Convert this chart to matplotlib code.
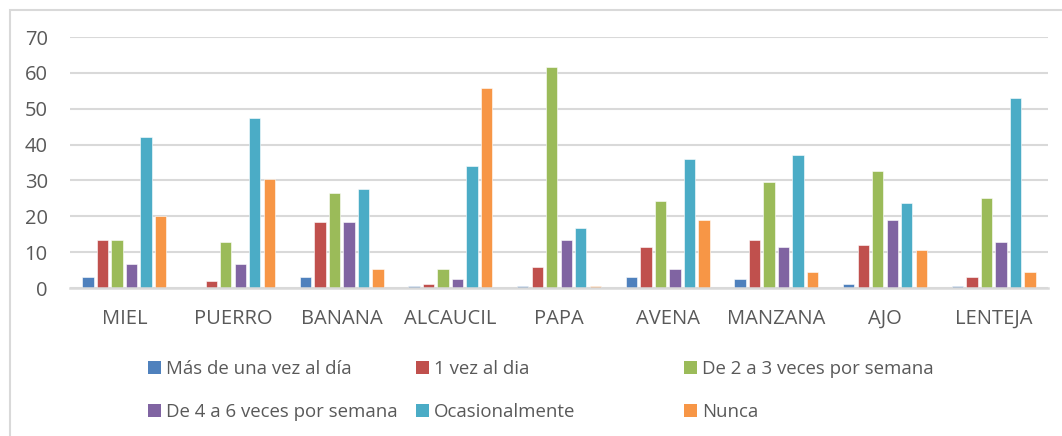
import matplotlib
matplotlib.use("Agg")
import matplotlib.pyplot as plt
import numpy as np
from matplotlib.patches import Rectangle, Patch

categories = ["MIEL", "PUERRO", "BANANA", "ALCAUCIL", "PAPA", "AVENA", "MANZANA", "AJO", "LENTEJA"]
series_names = ["Más de una vez al día", "1 vez al dia", "De 2 a 3 veces por semana",
                "De 4 a 6 veces por semana", "Ocasionalmente", "Nunca"]
mas_de_una = [3.2, 0.0, 3.2, 0.5, 0.5, 3.2, 2.6, 1.2, 0.5]
una_vez = [13.5, 1.9, 18.3, 1.2, 5.9, 11.4, 13.5, 12.1, 3.2]
dos_tres = [13.5, 12.8, 26.4, 5.4, 61.7, 24.3, 29.7, 32.5, 25.0]
cuatro_seis = [6.7, 6.7, 18.3, 2.6, 13.5, 5.4, 11.4, 18.9, 12.8]
ocasional = [42.0, 47.4, 27.6, 33.9, 16.8, 35.9, 37.2, 23.7, 52.9]
nunca = [20.2, 30.4, 5.4, 55.7, 0.5, 18.9, 4.5, 10.7, 4.5]
yticks = [0, 10, 20, 30, 40, 50, 60, 70]

series = [mas_de_una, una_vez, dos_tres, cuatro_seis, ocasional, nunca]
colors = ["#4F81BD", "#C0504D", "#9BBB59", "#8064A2", "#4BACC6", "#F79646"]

plt.rcParams['font.family'] = ['Open Sans', 'DejaVu Sans']
txt = "#595959"

fig = plt.figure(figsize=(10.62, 4.36), dpi=100)
W, H = 1062, 436
ax = fig.add_axes([70 / W, 1 - 288 / H, (1048 - 70) / W, (288 - 37) / H])

x = np.arange(len(categories))
slot = 0.1334
bw = 0.104
for i, (vals, c) in enumerate(zip(series, colors)):
    ax.bar(x + (i - 2.5) * slot, vals, width=bw, color=c, edgecolor="white",
           linewidth=0.4, label=series_names[i], zorder=3)

ax.set_xlim(-0.5, len(categories) - 0.5)
ax.set_ylim(0, 70)
ax.set_yticks(yticks)
ax.set_yticklabels([str(t) for t in yticks])
ax.set_xticks(x)
ax.set_xticklabels(categories)
ax.tick_params(axis="y", length=0, pad=16, labelsize=14.5, labelcolor=txt)
ax.tick_params(axis="x", length=0, pad=15, labelsize=14.5, labelcolor=txt)
ax.grid(axis="y", color="#D9D9D9", linewidth=1.5, zorder=0)
for s in ["top", "right", "left"]:
    ax.spines[s].set_visible(False)
ax.spines["bottom"].set_color("#D9D9D9")
ax.spines["bottom"].set_linewidth(1.8)
ax.spines["bottom"].set_zorder(4)

# figure border
fig.patches.append(Rectangle((10 / W, -0.1), 1.2, 1 - 10 / H + 0.1, transform=fig.transFigure,
                             fill=False, edgecolor="#D9D9D9", linewidth=1.5))

# legend: three columns of two rows each
col_x = [148, 416, 684]
for col in range(3):
    idx = [col, col + 3]
    handles = [Patch(facecolor=colors[k], edgecolor="none") for k in idx]
    labels = [series_names[k] for k in idx]
    leg = fig.legend(handles, labels, loc="upper left",
                     bbox_to_anchor=(col_x[col] / W, 1 - 360 / H),
                     frameon=False, fontsize=13.4, handlelength=0.7, handleheight=0.7,
                     handletextpad=0.28, labelspacing=1.32, borderpad=0, borderaxespad=0)
    for t in leg.get_texts():
        t.set_color(txt)

fig.savefig("out.png", dpi=100)
